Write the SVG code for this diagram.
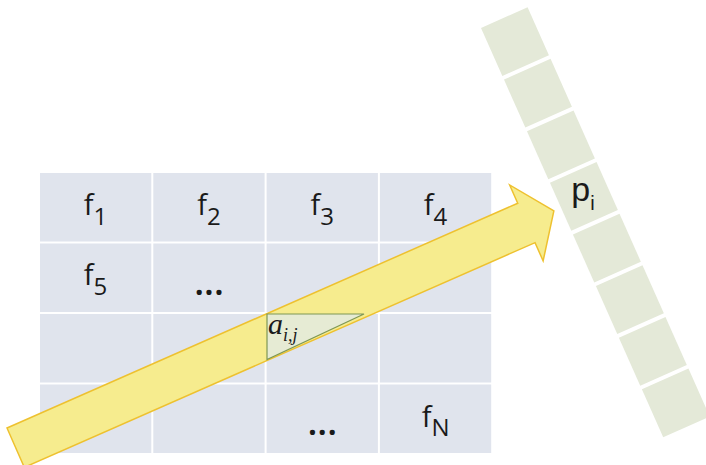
<svg xmlns="http://www.w3.org/2000/svg" width="706" height="465" viewBox="0 0 706 465">
  <style>
    .cell { fill: #E0E4ED; }
    .f { font-family: "Open Sans", Lato, "Liberation Sans", sans-serif; font-size: 29px; fill: #1a1a1a; text-anchor: middle; }
    .sub { font-size: 24px; }
    .dots { font-size: 36px; font-weight: 600; }
    .pcell { fill: #E4E9D8; }
    .p { font-family: "Liberation Sans", Arial, sans-serif; font-size: 34px; fill: #1a1a1a; text-anchor: middle; }
    .psub { font-size: 20px; }
    .arrow { fill: #F6EC8E; stroke: #EEC12F; stroke-width: 1.5; stroke-linejoin: miter; }
    .tri { fill: #E6EBD4; stroke: #7E9755; stroke-width: 1.2; }
    .a { font-family: "Liberation Serif", "Times New Roman", serif; font-style: italic; font-size: 30px; fill: #1a1a1a; }
    .asub { font-size: 18px; }
  </style>

  <g id="grid">
    <g id="cell-1-1"><rect class="cell" x="40" y="173" width="111.3" height="68.5"/><text class="f" x="95.5" y="215">f<tspan class="sub" dy="10">1</tspan></text></g>
    <g id="cell-1-2"><rect class="cell" x="153.3" y="173" width="111.3" height="68.5"/><text class="f" x="209" y="215">f<tspan class="sub" dy="10">2</tspan></text></g>
    <g id="cell-1-3"><rect class="cell" x="266.6" y="173" width="111.3" height="68.5"/><text class="f" x="322.3" y="215">f<tspan class="sub" dy="10">3</tspan></text></g>
    <g id="cell-1-4"><rect class="cell" x="379.9" y="173" width="111.3" height="68.5"/><text class="f" x="435.6" y="215">f<tspan class="sub" dy="10">4</tspan></text></g>

    <g id="cell-2-1"><rect class="cell" x="40" y="243.5" width="111.3" height="68.5"/><text class="f" x="95.5" y="285">f<tspan class="sub" dy="10">5</tspan></text></g>
    <g id="cell-2-2"><rect class="cell" x="153.3" y="243.5" width="111.3" height="68.5"/><text class="f dots" x="209" y="295">...</text></g>
    <g id="cell-2-3"><rect class="cell" x="266.6" y="243.5" width="111.3" height="68.5"/></g>
    <g id="cell-2-4"><rect class="cell" x="379.9" y="243.5" width="111.3" height="68.5"/></g>

    <g id="cell-3-1"><rect class="cell" x="40" y="314" width="111.3" height="68.5"/></g>
    <g id="cell-3-2"><rect class="cell" x="153.3" y="314" width="111.3" height="68.5"/></g>
    <g id="cell-3-3"><rect class="cell" x="266.6" y="314" width="111.3" height="68.5"/></g>
    <g id="cell-3-4"><rect class="cell" x="379.9" y="314" width="111.3" height="68.5"/></g>

    <g id="cell-4-1"><rect class="cell" x="40" y="384.5" width="111.3" height="68.5"/></g>
    <g id="cell-4-2"><rect class="cell" x="153.3" y="384.5" width="111.3" height="68.5"/></g>
    <g id="cell-4-3"><rect class="cell" x="266.6" y="384.5" width="111.3" height="68.5"/><text class="f dots" x="322.3" y="435">...</text></g>
    <g id="cell-4-4"><rect class="cell" x="379.9" y="384.5" width="111.3" height="68.5"/><text class="f" x="435.6" y="427">f<tspan class="sub" dy="9">N</tspan></text></g>
  </g>

  <g id="connectors">
    <path class="arrow" transform="translate(7,428) rotate(-23.75)" d="M0,0 L558,0 L558,-20 L588,21.5 L558,63 L558,43 L0,43 Z"/>
  </g>

  <g id="angle">
    <path class="tri" d="M267,314 L364,314 L267,359.5 Z"/>
    <text class="a" x="268" y="334">a<tspan class="asub" dy="7">i,j</tspan></text>
  </g>

  <g id="strip" transform="translate(481,28) rotate(-24)">
    <g id="p-1"><rect class="pcell" x="0" y="0" width="51" height="52.5"/></g>
    <g id="p-2"><rect class="pcell" x="0" y="56.5" width="51" height="52.5"/></g>
    <g id="p-3"><rect class="pcell" x="0" y="113" width="51" height="52.5"/></g>
    <g id="p-4"><rect class="pcell" x="0" y="169.5" width="51" height="52.5"/></g>
    <g id="p-5"><rect class="pcell" x="0" y="226" width="51" height="52.5"/></g>
    <g id="p-6"><rect class="pcell" x="0" y="282.5" width="51" height="52.5"/></g>
    <g id="p-7"><rect class="pcell" x="0" y="339" width="51" height="52.5"/></g>
    <g id="p-8"><rect class="pcell" x="0" y="395.5" width="51" height="52.5"/></g>
  </g>

  <g id="p-label">
    <text class="p" x="583" y="201">p<tspan class="psub" dy="9">i</tspan></text>
  </g>
</svg>
